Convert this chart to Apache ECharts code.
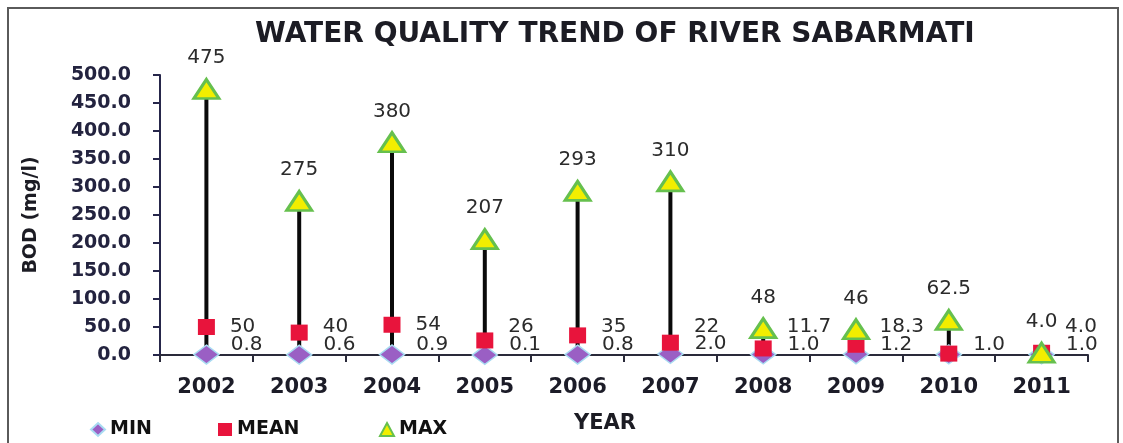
<!DOCTYPE html>
<html>
<head>
<meta charset="utf-8">
<script src="https://cdn.jsdelivr.net/npm/echarts@6/dist/echarts.min.js"></script>
<style>
  html, body { margin: 0; padding: 0; background: #ffffff; }
  #chart { width: 1123px; height: 443px; }
</style>
</head>
<body>
<div id="chart"></div>
<script>
// BOD readings (mg/l) of the Sabarmati, one entry per year
const years = ['2002', '2003', '2004', '2005', '2006', '2007', '2008', '2009', '2010', '2011'];
const minVals = [0.8, 0.6, 0.9, 0.1, 0.8, 2.0, 1.0, 1.2, 1.0, 1.0];
const meanVals = [50, 40, 54, 26, 35, 22, 11.7, 18.3, 2.5, 4.0];
const maxVals = [475, 275, 380, 207, 293, 310, 48, 46, 62.5, 4.0];
const meanLabelShown = [true, true, true, true, true, true, true, true, false, true];

const Y_MAX = 500;
const Y_STEP = 50;

const FONT = 'DejaVu Sans';
const GRID = { left: 160, right: 35, top: 75, bottom: 88 };
const plotHeight = 443 - GRID.top - GRID.bottom;
const pxPerUnit = plotHeight / Y_MAX;

// whole readings of 10 and above are printed bare, the rest with one decimal
const fmtReading = v => (v >= 10 && Number.isInteger(v)) ? String(v) : v.toFixed(1);

const chart = echarts.init(document.getElementById('chart'), null, { renderer: 'canvas' });

// mean labels sit level with a reading of 50 unless the mean is higher
const meanData = meanVals.map((v, i) => ({
  value: v,
  label: {
    show: meanLabelShown[i],
    offset: [0, -Math.max(0, 50 - v) * pxPerUnit]
  }
}));

const dataLabelStyle = {
  fontFamily: FONT, fontSize: 20, color: '#2b2b2b',
  formatter: p => fmtReading(p.value)
};

const option = {
  backgroundColor: '#ffffff',
  animation: false,
  title: {
    text: 'WATER QUALITY TREND OF RIVER SABARMATI',
    left: 250,
    top: 16,
    textStyle: { fontFamily: FONT, fontWeight: 'bold', fontSize: 28, color: '#1c1c24' }
  },
  graphic: [{
    type: 'rect',
    shape: { x: 8, y: 8, width: 1110, height: 442 },
    style: { fill: 'none', stroke: '#5a5a5a', lineWidth: 2 },
    silent: true
  }],
  legend: [
    { data: ['MIN'], left: 85, top: 415 },
    { data: ['MEAN'], left: 213, top: 415 },
    { data: ['MAX'], left: 374, top: 415 }
  ].map(l => Object.assign(l, {
    itemWidth: 14,
    itemHeight: 13,
    itemGap: 0,
    textStyle: { fontFamily: FONT, fontWeight: 'bold', fontSize: 19, color: '#111111' }
  })),
  grid: Object.assign({ outerBoundsMode: 'none', containLabel: false }, GRID),
  xAxis: {
    type: 'category',
    data: years,
    boundaryGap: true,
    name: 'YEAR',
    nameLocation: 'middle',
    nameGap: 58,
    nameTextStyle: { fontFamily: FONT, fontWeight: 'bold', fontSize: 21, color: '#1c1c24', padding: [0, 38, 0, 0] },
    axisLine: { lineStyle: { color: '#2a2a3a', width: 2 } },
    axisTick: { show: true, length: 7, lineStyle: { color: '#2a2a3a', width: 2 } },
    axisLabel: { margin: 22, fontFamily: FONT, fontWeight: 'bold', fontSize: 21, color: '#1c1c28' },
    splitLine: { show: false }
  },
  yAxis: {
    type: 'value',
    min: 0,
    max: Y_MAX,
    interval: Y_STEP,
    name: 'BOD (mg/l)',
    nameLocation: 'middle',
    nameRotate: 90,
    nameGap: 119,
    nameTextStyle: { fontFamily: FONT, fontWeight: 'bold', fontSize: 19, color: '#1c1c24' },
    axisLine: { show: true, lineStyle: { color: '#26264a', width: 2 } },
    axisTick: { show: true, length: 7, lineStyle: { color: '#26264a', width: 2 } },
    axisLabel: {
      margin: 29,
      fontFamily: FONT,
      fontWeight: 'bold',
      fontSize: 19,
      color: '#23233f',
      formatter: v => v.toFixed(1)
    },
    splitLine: { show: false }
  },
  series: [
    {
      // high-low line joining the lowest and highest reading of each year
      type: 'custom',
      name: 'range',
      z: 1,
      silent: true,
      data: years.map((y, i) => [i, Math.min(minVals[i], meanVals[i], maxVals[i]), Math.max(minVals[i], meanVals[i], maxVals[i])]),
      encode: { x: 0, y: [1, 2] },
      renderItem: (params, api) => {
        const lo = api.coord([api.value(0), api.value(1)]);
        const hi = api.coord([api.value(0), api.value(2)]);
        return {
          type: 'line',
          shape: { x1: lo[0], y1: lo[1], x2: hi[0], y2: hi[1] },
          style: { stroke: '#0a0a0a', lineWidth: 4 }
        };
      }
    },
    {
      type: 'scatter',
      name: 'MIN',
      z: 3,
      symbol: 'diamond',
      symbolSize: [25, 19],
      itemStyle: { color: '#9a5fc4', borderColor: '#a9dcf2', borderWidth: 1.5, opacity: 1 },
      data: minVals,
      label: Object.assign({ show: true, position: 'right', distance: 11, offset: [0, -10] }, dataLabelStyle)
    },
    {
      type: 'scatter',
      name: 'MEAN',
      z: 4,
      symbol: 'rect',
      symbolSize: [17, 16],
      itemStyle: { color: '#e8143c', opacity: 1 },
      data: meanData,
      label: Object.assign({ show: true, position: 'right', distance: 15 }, dataLabelStyle)
    },
    {
      type: 'scatter',
      name: 'MAX',
      z: 5,
      symbol: 'triangle',
      symbolSize: [25, 19],
      itemStyle: { color: '#f2ee00', borderColor: '#66c04e', borderWidth: 3, opacity: 1 },
      data: maxVals,
      label: Object.assign({ show: true, position: 'top', distance: 10 }, dataLabelStyle)
    }
  ]
};

chart.setOption(option);
</script>
</body>
</html>
